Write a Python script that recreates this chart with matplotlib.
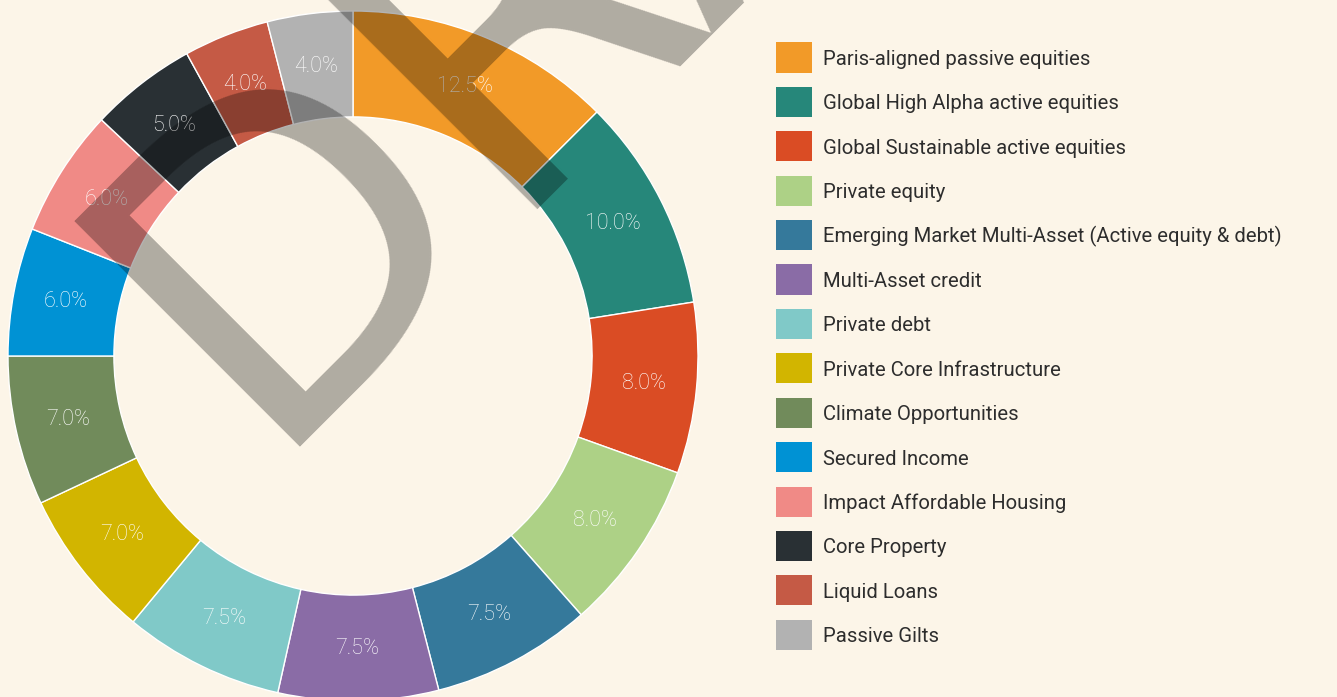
import matplotlib.pyplot as plt

# Fund allocation (%) in clockwise order from 12 o'clock
categories = [
    "Paris-aligned passive equities",
    "Global High Alpha active equities",
    "Global Sustainable active equities",
    "Private equity",
    "Emerging Market Multi-Asset (Active equity & debt)",
    "Multi-Asset credit",
    "Private debt",
    "Private Core Infrastructure",
    "Climate Opportunities",
    "Secured Income",
    "Impact Affordable Housing",
    "Core Property",
    "Liquid Loans",
    "Passive Gilts",
]
weights = [12.5, 10.0, 8.0, 8.0, 7.5, 7.5, 7.5, 7.0, 7.0, 6.0, 6.0, 5.0, 4.0, 4.0]
colors = [
    "#f29a28", "#26877a", "#da4c24", "#add186", "#35799b", "#8a6ca6", "#80c9c8",
    "#d2b500", "#718b5b", "#0092d4", "#f08a86", "#293034", "#c55a45", "#b2b2b2",
]

BG = "#fcf5e8"
W, H = 1337, 697
DPI = 100

fig = plt.figure(figsize=(W / DPI, H / DPI), dpi=DPI, facecolor=BG)

# donut: centre (353, 356) px from top-left, outer radius 345 px
cx, cy, r_out = 353, 356, 345
ax = fig.add_axes([(cx - r_out) / W, (H - cy - r_out) / H, 2 * r_out / W, 2 * r_out / H])

ring = 0.307
wedges, texts, autotexts = ax.pie(
    weights,
    colors=colors,
    startangle=90,
    counterclock=False,
    radius=1.0,
    autopct=lambda p: f"{p:.1f}%",
    pctdistance=1 - ring / 2,
    wedgeprops=dict(width=ring, edgecolor="white", linewidth=1.0),
    textprops=dict(color="white", fontsize=15.5, family="Roboto", fontweight="light"),
)
# pie() resets the limits, so set them afterwards
ax.set_xlim(-1, 1)
ax.set_ylim(-1, 1)
ax.set_aspect("equal")
ax.axis("off")
for w_ in wedges:
    w_.set_clip_on(False)

# legend drawn by hand: swatch + label per row
row0, step = 57.5, 44.4
for i, (name, col) in enumerate(zip(categories, colors)):
    yc = row0 + step * i
    fig.patches.append(plt.Rectangle((776 / W, (H - yc - 15) / H), 36 / W, 30 / H,
                                     transform=fig.transFigure, facecolor=col,
                                     edgecolor="none"))
    fig.text(823 / W, (H - yc - 7.5) / H, name, fontsize=14.6, family="Roboto",
             color="#2d2d2d", ha="left", va="baseline")

# DRAFT watermark across the chart
fig.text(257 / W, (H - 447) / H, "DRAFT", fontsize=315, family="DejaVu Sans",
         color="black", alpha=0.30, rotation=45, rotation_mode="anchor",
         ha="left", va="baseline", zorder=10)

fig.savefig("out.png", dpi=DPI, facecolor=BG)
